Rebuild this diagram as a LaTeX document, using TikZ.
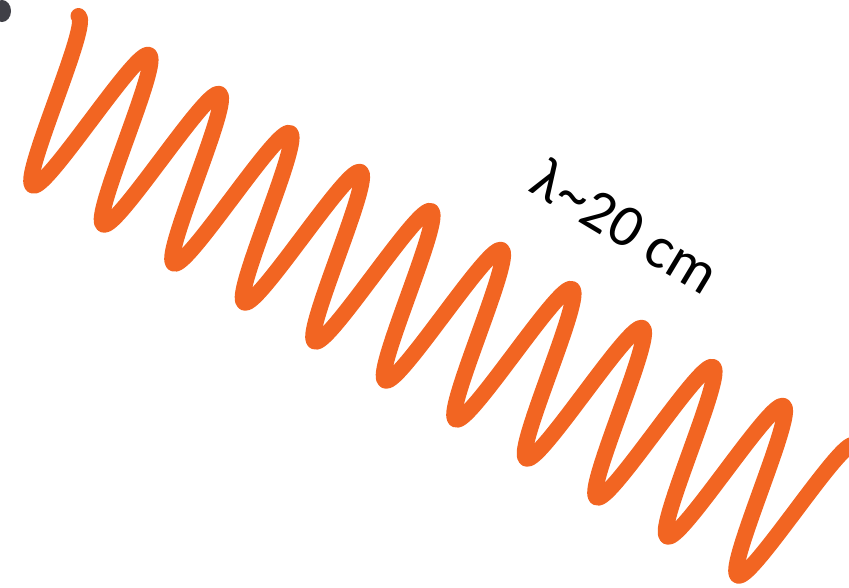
\documentclass[tikz,border=0pt]{standalone}
\usepackage{fontspec}
\setmainfont{Carlito}
\definecolor{waveorange}{HTML}{F26522}
\definecolor{blobgray}{HTML}{2B2B33}
\begin{document}
\begin{tikzpicture}[x=1pt,y=-1pt,
  wave/.style={draw=waveorange, line width=16pt, line cap=round, line join=round},
  wavelabel/.style={font=\fontsize{60}{62}\selectfont, rotate=-31, text=black, inner sep=0pt}]
\useasboundingbox (0,0) rectangle (849,587);
\clip (0,0) rectangle (849,587);
\fill[blobgray, opacity=0.9] (2,11) ellipse [x radius=9, y radius=11];
\draw[wave] plot[domain=-1:9.99, samples=600, variable=\t, smooth]
  ({108.5+70.5*\t+40.5*cos(360*\t)}, {130+39*\t-75*cos(360*\t)});
\node[wavelabel] (lambda) at (626,226) {λ\textasciitilde 20 cm};
\end{tikzpicture}
\end{document}
